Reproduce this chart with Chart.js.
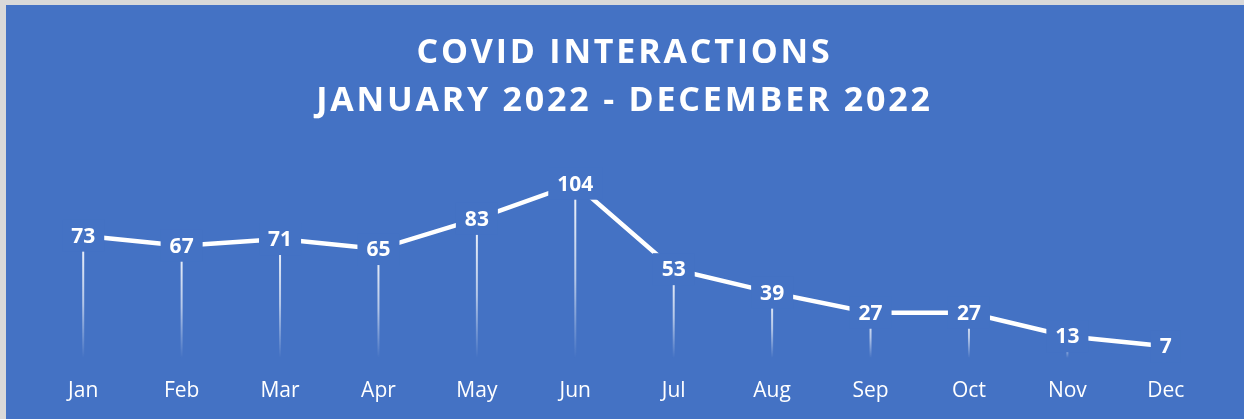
<!DOCTYPE html>
<html>
<head>
<meta charset="utf-8">
<script src="https://cdn.jsdelivr.net/npm/chart.js@4/dist/chart.umd.min.js"></script>
<style>
    html, body { margin: 0; padding: 0; background: #d9d9d9; }
    #wrap {
        position: absolute;
        left: 6px; top: 5px;
        width: 1238px; height: 414px;
        background: #4472c4;
    }
</style>
</head>
<body>
<div id="wrap"><canvas id="covidChart"></canvas></div>
<script>
// данные графика
const months = ["Jan", "Feb", "Mar", "Apr", "May", "Jun", "Jul", "Aug", "Sep", "Oct", "Nov", "Dec"];
const interactions = [73, 67, 71, 65, 83, 104, 53, 39, 27, 27, 13, 7];
const titleLines = ["COVID INTERACTIONS", "JANUARY 2022 - DECEMBER 2022"];

const bgColor = "#4472c4";

// разрядка букв в заголовке
const titleSpacing = {
    id: "titleSpacing",
    beforeDraw(chart) {
        const block = chart.titleBlock;
        if (!block || block._spaced) return;
        const orig = block.draw.bind(block);
        block.draw = function (area) {
            chart.ctx.save();
            chart.ctx.letterSpacing = "2.8px";
            orig(area);
            chart.ctx.restore();
        };
        block._spaced = true;
    }
};

// вертикальные линии от точки вниз с затуханием
const dropLines = {
    id: "dropLines",
    beforeDatasetsDraw(chart) {
        const ctx = chart.ctx;
        const meta = chart.getDatasetMeta(0);
        const bottom = chart.scales.y.getPixelForValue(0);
        ctx.save();
        meta.data.forEach(pt => {
            const grad = ctx.createLinearGradient(0, pt.y, 0, bottom);
            grad.addColorStop(0, "rgba(255,255,255,0.95)");
            grad.addColorStop(0.55, "rgba(255,255,255,0.6)");
            grad.addColorStop(1, "rgba(255,255,255,0)");
            ctx.strokeStyle = grad;
            ctx.lineWidth = 2;
            ctx.beginPath();
            ctx.moveTo(pt.x, pt.y);
            ctx.lineTo(pt.x, bottom);
            ctx.stroke();
        });
        ctx.restore();
    }
};

// подписи значений на фоне цвета графика
const valueLabels = {
    id: "valueLabels",
    afterDatasetsDraw(chart) {
        const ctx = chart.ctx;
        const meta = chart.getDatasetMeta(0);
        ctx.save();
        ctx.font = "bold 21px 'Open Sans'";
        ctx.textAlign = "center";
        ctx.textBaseline = "middle";
        meta.data.forEach((pt, i) => {
            const text = String(interactions[i]);
            const w = ctx.measureText(text).width;
            ctx.fillStyle = bgColor;
            ctx.fillRect(pt.x - w / 2 - 9, pt.y - 16, w + 18, 32);
            ctx.fillStyle = "#ffffff";
            ctx.fillText(text, pt.x, pt.y + 1);
        });
        ctx.restore();
    }
};

const ctx = document.getElementById("covidChart").getContext("2d");
new Chart(ctx, {
    type: "line",
    data: {
        labels: months,
        datasets: [{
            label: "Interactions",
            data: interactions,
            borderColor: "#ffffff",
            borderWidth: 4.5,
            pointRadius: 0,
            tension: 0,
            fill: false
        }]
    },
    options: {
        responsive: true,
        maintainAspectRatio: false,
        animation: false,
        layout: { padding: { left: 28, right: 29, top: 0, bottom: 0 } },
        plugins: {
            legend: { display: false },
            tooltip: { enabled: false },
            title: {
                display: true,
                text: titleLines,
                color: "#ffffff",
                font: { family: "'Open Sans'", size: 34, weight: "bold", lineHeight: 1.41 },
                padding: { top: 24, bottom: 32 }
            }
        },
        scales: {
            x: {
                offset: true,
                grid: { display: false, drawTicks: false },
                border: { display: false },
                ticks: {
                    color: "#ffffff",
                    font: { family: "'Open Sans'", size: 21 },
                    padding: 20
                },
                afterFit(scale) {
                    scale.height = 61;
                }
            },
            y: {
                display: false,
                min: 0,
                max: 120
            }
        }
    },
    plugins: [titleSpacing, dropLines, valueLabels]
});
</script>
</body>
</html>
